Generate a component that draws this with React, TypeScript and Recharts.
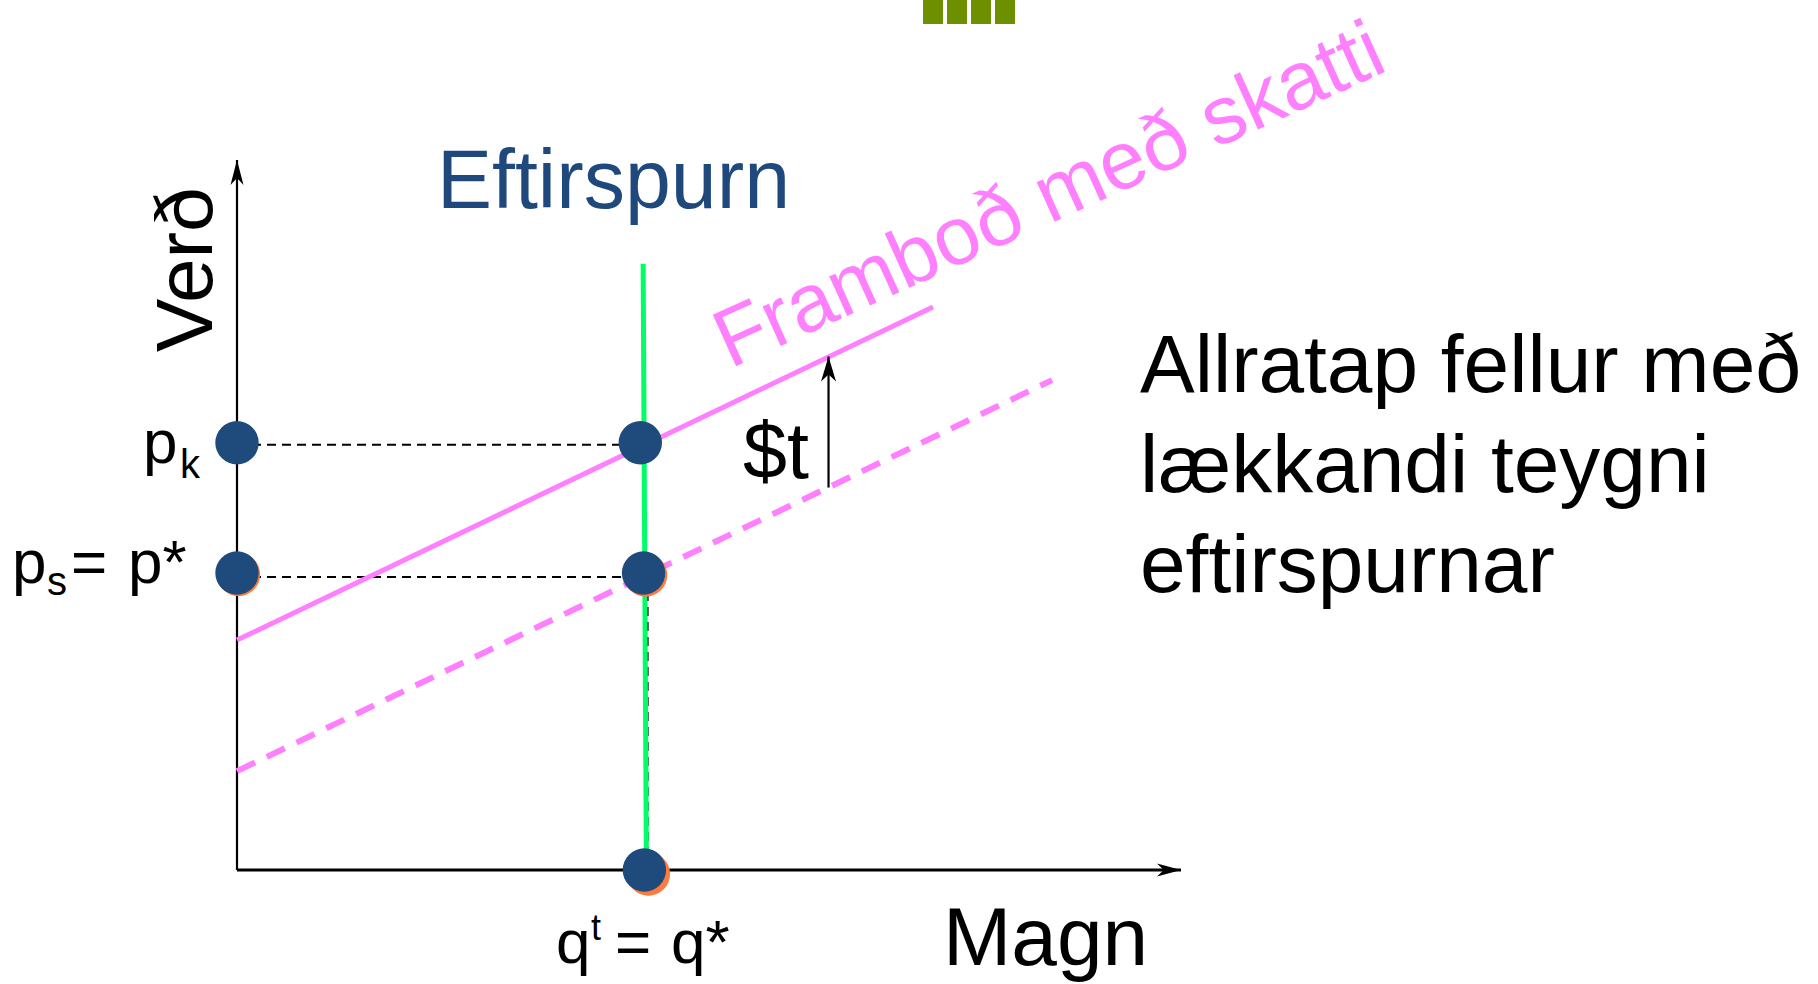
import React from 'react';
import { ComposedChart, BarChart, Bar, XAxis, YAxis, Line, Scatter } from 'recharts';

// axis extents (quantity on x, price on y)
const X_MAX = 23.22;
const Y_MAX = 17.45;

const demand = [
  { q: 9.99, p: 14.9 },
  { q: 10.07, p: 0 },
];
const supplyWithTax = [
  { q: 0, p: 5.65 },
  { q: 17.12, p: 13.84 },
];
const supply = [
  { q: 0, p: 2.43 },
  { q: 20.05, p: 12.04 },
];
const consumerPriceGuide = [
  { q: 0, p: 10.45 },
  { q: 9.92, p: 10.45 },
];
const producerPriceGuide = [
  { q: 0, p: 7.2 },
  { q: 10, p: 7.2 },
];
const quantityGuide = [
  { q: 10.1, p: 7.2 },
  { q: 10.1, p: 0 },
];
const taxArrow = [
  { q: 14.55, p: 9.4 },
  { q: 14.55, p: 12.62 },
];
const xAxisLine = [
  { q: 0, p: 0 },
  { q: X_MAX, p: 0 },
];
const yAxisLine = [
  { q: 0, p: 0 },
  { q: 0, p: Y_MAX },
];
const points = [
  { id: 'pkAxis', q: 0, p: 10.5 },
  { id: 'pkDemand', q: 9.92, p: 10.5 },
  { id: 'psAxis', q: 0, p: 7.3 },
  { id: 'psDemand', q: 10, p: 7.3 },
  { id: 'qStar', q: 10.02, p: 0 },
];
const logoBars = [{ v: 1 }, { v: 1 }, { v: 1 }, { v: 1 }];

const shadowOffset: Record<string, number> = { psAxis: 1.5, psDemand: 2, qStar: 4 };

const FONT = '"Liberation Sans", Arial, sans-serif';
const PINK = '#FF80FF';
const NAVY = '#1F4A7C';

const arrowHead = (dir: 'up' | 'right', len: number, half: number) => (props: any) => {
  const { cx, cy, index, stroke } = props;
  if (index !== 1) return <g key={`n${index}`} />;
  const notch = len * 0.72;
  const d =
    dir === 'up'
      ? `M${cx},${cy} L${cx + half},${cy + len} L${cx},${cy + notch} L${cx - half},${cy + len} Z`
      : `M${cx},${cy} L${cx - len},${cy - half} L${cx - notch},${cy} L${cx - len},${cy + half} Z`;
  return <path key="head" d={d} fill={stroke} stroke="none" />;
};

const renderPoint = (props: any) => {
  const { cx, cy, payload } = props;
  const off = shadowOffset[payload.id];
  return (
    <g>
      {off ? <circle cx={cx + off} cy={cy + off} r={21.7} fill="#FF7A3D" /> : null}
      <circle cx={cx} cy={cy} r={21.7} fill={NAVY} />
    </g>
  );
};

export default function App() {
  return (
    <div style={{ position: 'absolute', left: 0, top: 0, width: 1818, height: 984, background: '#fff' }}>
      <div style={{ position: 'absolute', left: 921, top: 0 }}>
        <BarChart width={96} height={24} data={logoBars} margin={{ top: 0, right: 0, bottom: 0, left: 0 }}>
          <XAxis hide />
          <YAxis hide domain={[0, 1]} />
          <Bar dataKey="v" fill="#6E9000" barSize={20} isAnimationActive={false} />
        </BarChart>
      </div>

      <div style={{ position: 'absolute', left: 0, top: 0 }}>
        <ComposedChart width={1818} height={984} margin={{ top: 160, right: 637, bottom: 114, left: 237 }}>
          <XAxis type="number" dataKey="q" domain={[0, X_MAX]} hide />
          <YAxis type="number" dataKey="p" domain={[0, Y_MAX]} hide />

          <Line data={consumerPriceGuide} dataKey="p" stroke="#000" strokeWidth={2} strokeDasharray="9 6" dot={false} isAnimationActive={false} />
          <Line data={producerPriceGuide} dataKey="p" stroke="#000" strokeWidth={2} strokeDasharray="9 6" dot={false} isAnimationActive={false} />
          <Line data={quantityGuide} dataKey="p" stroke="#000" strokeWidth={2} strokeDasharray="9 6" dot={false} isAnimationActive={false} />

          <Line data={yAxisLine} dataKey="p" stroke="#000" strokeWidth={2.2} dot={arrowHead('up', 25, 6.5)} isAnimationActive={false} />
          <Line data={xAxisLine} dataKey="p" stroke="#000" strokeWidth={3} dot={arrowHead('right', 24, 6.5)} isAnimationActive={false} />

          <Line data={supply} dataKey="p" stroke={PINK} strokeWidth={6} strokeDasharray="20 13" dot={false} isAnimationActive={false} />
          <Line data={supplyWithTax} dataKey="p" stroke={PINK} strokeWidth={5} dot={false} isAnimationActive={false} />
          <Line data={demand} dataKey="p" stroke="#00FF66" strokeWidth={5} dot={false} isAnimationActive={false} />

          <Line data={taxArrow} dataKey="p" stroke="#000" strokeWidth={2.2} dot={arrowHead('up', 25, 7.5)} isAnimationActive={false} />

          <Scatter data={points} dataKey="p" shape={renderPoint} isAnimationActive={false} />
        </ComposedChart>
      </div>

      <svg
        width={1818}
        height={984}
        style={{ position: 'absolute', left: 0, top: 0, pointerEvents: 'none' }}
        fontFamily={FONT}
      >
        <text x={437} y={208} fontSize={82.5} fill="#1F497D">Eftirspurn</text>
        <text x={730} y={369} transform="rotate(-24.4 730 369)" fontSize={82} fill={PINK}>Framboð með skatti</text>
        <text x={212} y={352} transform="rotate(-90 212 352)" fontSize={80} fill="#000">Verð</text>
        <text x={943} y={965} fontSize={82} fill="#000">Magn</text>
        <text x={743} y={478} fontSize={79} fill="#000">$t</text>

        <text y={463} fontSize={62} fill="#000">
          <tspan x={143}>p</tspan>
          <tspan x={180} y={478} fontSize={40}>k</tspan>
        </text>
        <text y={583} fontSize={62} fill="#000">
          <tspan x={12}>p</tspan>
          <tspan x={47} y={595} fontSize={40}>s</tspan>
          <tspan x={71} y={583}>=</tspan>
          <tspan x={128} y={583}>p*</tspan>
        </text>
        <text y={963} fontSize={62} fill="#000">
          <tspan x={556}>q</tspan>
          <tspan x={591} y={940} fontSize={36}>t</tspan>
          <tspan x={615} y={963}>=</tspan>
          <tspan x={671} y={963}>q*</tspan>
        </text>

        <text x={1140} fontSize={82} fill="#000">
          <tspan x={1140} y={392}>Allratap fellur með</tspan>
          <tspan x={1140} y={492}>lækkandi teygni</tspan>
          <tspan x={1140} y={592}>eftirspurnar</tspan>
        </text>
      </svg>
    </div>
  );
}
